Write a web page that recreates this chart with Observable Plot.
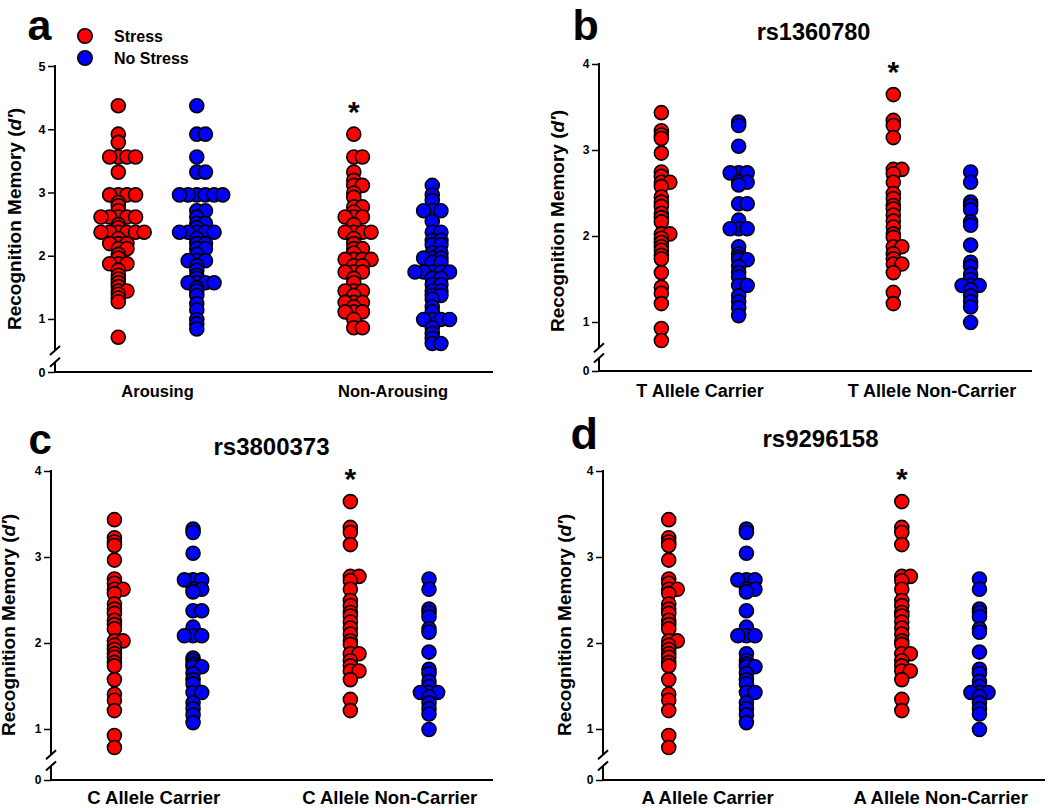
<!DOCTYPE html>
<html><head><meta charset="utf-8">
<script src="https://cdn.jsdelivr.net/npm/d3@7"></script>
<script src="https://cdn.jsdelivr.net/npm/@observablehq/plot@0.6"></script>
<style>
html,body{margin:0;padding:0;background:#fff;}
#fig{position:relative;width:1050px;height:808px;overflow:hidden;font-family:"Liberation Sans",Arial,sans-serif;}
#fig > div, #fig > svg{position:absolute;}
</style></head><body><div id="fig"></div>
<script>
// ---------- shared ----------
const conditions = ["Stress", "No Stress"];
const colors = ["#ff0000", "#0000ff"];
const yLabelParts = ["Recognition Memory (", "d′", ")"];

// ---------- panel a ----------
const aCategories = ["Arousing", "Non-Arousing"];
const aTicks = [0, 1, 2, 3, 4, 5];
const aStressArousing = [4.38, 3.93, 3.80, 3.57, 3.57, 3.57, 3.57, 3.33, 2.97, 2.97, 2.97, 2.97, 2.85, 2.80, 2.72,
  2.62, 2.62, 2.62, 2.62, 2.62, 2.50, 2.45, 2.38, 2.38, 2.38, 2.38, 2.38, 2.38, 2.28, 2.20, 2.20, 2.20, 2.12, 2.12,
  2.03, 1.97, 1.88, 1.88, 1.88, 1.78, 1.70, 1.64, 1.58, 1.52, 1.45, 1.45, 1.40, 1.34, 1.28, 0.72];
const aNoStressArousing = [4.38, 3.93, 3.93, 3.57, 3.33, 3.33, 2.97, 2.97, 2.97, 2.97, 2.97, 2.97, 2.72, 2.72, 2.62,
  2.52, 2.52, 2.45, 2.38, 2.38, 2.38, 2.38, 2.38, 2.28, 2.20, 2.20, 2.12, 2.12, 2.03, 1.93, 1.93, 1.93, 1.85, 1.78,
  1.70, 1.65, 1.58, 1.58, 1.58, 1.58, 1.50, 1.45, 1.38, 1.25, 1.15, 1.00, 0.93, 0.85];
const aStressNonArousing = [3.93, 3.57, 3.57, 3.33, 3.20, 3.12, 3.12, 3.00, 2.93, 2.78, 2.78, 2.70, 2.62, 2.62, 2.62,
  2.50, 2.38, 2.38, 2.38, 2.38, 2.28, 2.20, 2.12, 2.12, 2.05, 1.95, 1.95, 1.95, 1.95, 1.85, 1.85, 1.75, 1.75, 1.75,
  1.65, 1.58, 1.45, 1.45, 1.45, 1.38, 1.27, 1.27, 1.27, 1.20, 1.12, 1.12, 1.12, 1.00, 0.87, 0.87];
const aNoStressNonArousing = [3.12, 2.97, 2.88, 2.72, 2.72, 2.72, 2.55, 2.38, 2.38, 2.25, 2.25, 2.18, 2.18, 2.05, 2.05,
  1.97, 1.97, 1.97, 1.90, 1.90, 1.75, 1.75, 1.75, 1.75, 1.75, 1.65, 1.65, 1.55, 1.55, 1.45, 1.45, 1.38, 1.38, 1.32,
  1.20, 1.12, 1.00, 1.00, 1.00, 1.00, 0.87, 0.78, 0.70, 0.62, 0.62];
const aSignificant = ["Non-Arousing"];

// ---------- panel b ----------
const bTitle = "rs1360780";
const bCategories = ["T Allele Carrier", "T Allele Non-Carrier"];
const bTicks = [0, 1, 2, 3, 4];
const bStressCarrier = [3.44, 3.23, 3.18, 3.14, 2.97, 2.75, 2.70, 2.63, 2.63, 2.58, 2.46, 2.40, 2.35, 2.27, 2.22, 2.17,
  2.03, 2.03, 1.98, 1.93, 1.88, 1.84, 1.78, 1.74, 1.58, 1.41, 1.34, 1.22, 0.93, 0.79];
const bNoStressCarrier = [3.33, 3.29, 3.05, 2.74, 2.74, 2.74, 2.63, 2.63, 2.60, 2.38, 2.38, 2.19, 2.09, 2.09, 2.09,
  1.88, 1.80, 1.76, 1.73, 1.73, 1.65, 1.58, 1.53, 1.43, 1.43, 1.31, 1.24, 1.17, 1.08];
const bStressNonCarrier = [3.65, 3.35, 3.29, 3.15, 2.78, 2.78, 2.73, 2.63, 2.50, 2.44, 2.36, 2.32, 2.25, 2.18, 2.11,
  2.03, 1.99, 1.88, 1.88, 1.80, 1.74, 1.68, 1.68, 1.58, 1.35, 1.22];
const bNoStressNonCarrier = [2.75, 2.63, 2.40, 2.36, 2.31, 2.17, 2.13, 1.90, 1.70, 1.65, 1.56, 1.50, 1.43, 1.43, 1.43,
  1.38, 1.31, 1.24, 1.18, 1.00];
const bSignificant = ["T Allele Non-Carrier"];

// ---------- panel c ----------
const cTitle = "rs3800373";
const cCategories = ["C Allele Carrier", "C Allele Non-Carrier"];
const cTicks = [0, 1, 2, 3, 4];
const cStressCarrier = [3.44, 3.23, 3.18, 3.14, 2.97, 2.75, 2.70, 2.63, 2.63, 2.58, 2.46, 2.40, 2.35, 2.27, 2.22, 2.17,
  2.03, 2.03, 1.98, 1.93, 1.88, 1.84, 1.78, 1.74, 1.58, 1.41, 1.34, 1.22, 0.93, 0.79];
const cNoStressCarrier = [3.33, 3.29, 3.05, 2.74, 2.74, 2.74, 2.63, 2.63, 2.60, 2.38, 2.38, 2.19, 2.09, 2.09, 2.09,
  1.83, 1.80, 1.76, 1.73, 1.73, 1.65, 1.58, 1.53, 1.43, 1.43, 1.31, 1.24, 1.17, 1.08];
const cStressNonCarrier = [3.65, 3.35, 3.29, 3.15, 2.78, 2.78, 2.73, 2.63, 2.50, 2.44, 2.36, 2.32, 2.25, 2.18, 2.11,
  2.03, 1.99, 1.88, 1.88, 1.80, 1.74, 1.68, 1.68, 1.58, 1.35, 1.22];
const cNoStressNonCarrier = [2.75, 2.63, 2.40, 2.36, 2.31, 2.17, 2.13, 1.90, 1.70, 1.65, 1.56, 1.50, 1.43, 1.43, 1.43,
  1.38, 1.31, 1.24, 1.18, 1.00];
const cSignificant = ["C Allele Non-Carrier"];

// ---------- panel d ----------
const dTitle = "rs9296158";
const dCategories = ["A Allele Carrier", "A Allele Non-Carrier"];
const dTicks = [0, 1, 2, 3, 4];
const dStressCarrier = [3.44, 3.23, 3.18, 3.14, 2.97, 2.75, 2.70, 2.63, 2.63, 2.58, 2.46, 2.40, 2.35, 2.27, 2.22, 2.17,
  2.03, 2.03, 1.98, 1.93, 1.88, 1.84, 1.78, 1.74, 1.58, 1.41, 1.34, 1.22, 0.93, 0.79];
const dNoStressCarrier = [3.33, 3.29, 3.05, 2.74, 2.74, 2.74, 2.63, 2.63, 2.60, 2.38, 2.19, 2.09, 2.09, 2.09,
  1.88, 1.80, 1.76, 1.73, 1.73, 1.65, 1.58, 1.53, 1.43, 1.43, 1.31, 1.24, 1.17, 1.08];
const dStressNonCarrier = [3.65, 3.35, 3.29, 3.15, 2.78, 2.78, 2.73, 2.63, 2.50, 2.44, 2.36, 2.32, 2.25, 2.18, 2.11,
  2.03, 1.99, 1.88, 1.88, 1.80, 1.74, 1.68, 1.68, 1.58, 1.35, 1.22];
const dNoStressNonCarrier = [2.75, 2.63, 2.40, 2.36, 2.31, 2.17, 2.13, 1.90, 1.70, 1.65, 1.56, 1.50, 1.43, 1.43, 1.43,
  1.38, 1.31, 1.24, 1.18, 1.00];
const dSignificant = ["A Allele Non-Carrier"];

// ---------- panel specs (data + layout) ----------
const panels = [
  {letter: "a", title: null, categories: aCategories, ticks: aTicks, significant: aSignificant,
   series: [[aStressArousing, aNoStressArousing], [aStressNonArousing, aNoStressNonArousing]],
   L: {left: 0, top: 0, width: 525, height: 400, ml: 55, mr: 32, yDomain: [0, 0.5, 5], yRange: [372, 350.6, 66],
       xDomain: [-0.80, 4.78], breakHi: 0.5, breakLo: 0.23, yLabelX: 15, yLabelY: 219, labelSize: 16.5, labelBase: 396,
       letterX: 27, letterY: 39, letterSize: 43, tickSize: 12.5}},
  {letter: "b", title: bTitle, categories: bCategories, ticks: bTicks, significant: bSignificant,
   series: [[bStressCarrier, bNoStressCarrier], [bStressNonCarrier, bNoStressNonCarrier]],
   L: {left: 520, top: 0, width: 530, height: 400, ml: 79, mr: 18, yDomain: [0, 0.7, 4], yRange: [371, 347.8, 64],
       xDomain: [-0.80, 4.80], breakHi: 0.7, breakLo: 0.39, yLabelX: 37.5, yLabelY: 221, labelSize: 18, labelBase: 396.5,
       letterX: 52, letterY: 39, letterSize: 43, titleX: 293, titleY: 32, titleSize: 23.5, tickSize: 12}},
  {letter: "c", title: cTitle, categories: cCategories, ticks: cTicks, significant: cSignificant,
   series: [[cStressCarrier, cNoStressCarrier], [cStressNonCarrier, cNoStressNonCarrier]],
   L: {left: 0, top: 400, width: 525, height: 408, ml: 51, mr: 32, yDomain: [0, 0.7, 4], yRange: [380, 354.8, 71],
       xDomain: [-0.80, 4.82], breakHi: 0.7, breakLo: 0.39, yLabelX: 9, yLabelY: 225, labelSize: 18.5, labelBase: 403,
       letterX: 28, letterY: 53, letterSize: 42, titleX: 271, titleY: 47, titleSize: 24, tickSize: 12}},
  {letter: "d", title: dTitle, categories: dCategories, ticks: dTicks, significant: dSignificant,
   series: [[dStressCarrier, dNoStressCarrier], [dStressNonCarrier, dNoStressNonCarrier]],
   L: {left: 520, top: 400, width: 530, height: 408, ml: 83, mr: 5, yDomain: [0, 0.7, 4], yRange: [380, 354.8, 71],
       xDomain: [-0.84, 4.85], breakHi: 0.7, breakLo: 0.39, yLabelX: 44.5, yLabelY: 225, labelSize: 18.5, labelBase: 403,
       letterX: 50, letterY: 48, letterSize: 45, titleX: 300, titleY: 39, titleSize: 24, tickSize: 12}}
];

const tieStep = 0.11; // horizontal spread of tied values, in group units

function buildPoints(p) {
  const pts = [];
  p.series.forEach((pair, ci) => pair.forEach((vals, si) => {
    const gi = ci * 3 + si;
    const seen = new Map();
    vals.forEach(v => {
      const k = seen.get(v) || 0; seen.set(v, k + 1);
      const slot = k === 0 ? 0 : (k % 2 === 1 ? (k + 1) / 2 : -k / 2);
      pts.push({x: gi + slot * tieStep, v, cond: conditions[si], category: p.categories[ci]});
    });
  }));
  return pts;
}

const fig = d3.select("#fig");

for (const p of panels) {
  const L = p.L;
  const pts = buildPoints(p);
  const cats = p.categories.map((c, ci) => ({c, pos: ci * 3 + 0.5}));
  const sig = p.categories.map((c, ci) => ({c, pos: ci * 3, max: d3.max(p.series[ci][0])}))
    .filter(d => p.significant.includes(d.c));
  const mt = L.yRange[L.yRange.length - 1], mb = L.height - L.yRange[0];

  const axisLines = (index, {x, y}) => {
    const g = d3.create("svg:g").attr("stroke", "black").attr("fill", "none").attr("stroke-width", 2);
    const x0 = x(L.xDomain[0]), x1 = x(L.xDomain[1]), y0 = y(0);
    g.append("line").attr("x1", x0 - 1).attr("x2", x1).attr("y1", y0).attr("y2", y0);
    g.append("line").attr("x1", x0).attr("x2", x0).attr("y1", y(p.ticks[p.ticks.length - 1]) - 1).attr("y2", y(L.breakHi));
    g.append("line").attr("x1", x0).attr("x2", x0).attr("y1", y(L.breakLo)).attr("y2", y0);
    for (const b of [L.breakHi, L.breakLo]) {
      g.append("line").attr("x1", x0 - 5).attr("x2", x0 + 5).attr("y1", y(b) + 4.5).attr("y2", y(b) - 4.5);
    }
    return g.node();
  };

  const yLabel = () => {
    const t = d3.create("svg:text")
      .attr("transform", `translate(${L.yLabelX},${L.yLabelY}) rotate(-90)`)
      .attr("text-anchor", "middle").attr("dominant-baseline", "central")
      .attr("font-size", 18).attr("font-weight", "bold").attr("fill", "black")
      .attr("textLength", 222).attr("lengthAdjust", "spacingAndGlyphs");
    t.append("tspan").text(yLabelParts[0]);
    t.append("tspan").attr("font-style", "italic").text(yLabelParts[1]);
    t.append("tspan").text(yLabelParts[2]);
    return t.node();
  };

  const marks = [
    Plot.axisY({ticks: p.ticks, tickSize: 7, tickPadding: 3, fontSize: L.tickSize, strokeWidth: 1.5,
      tickFormat: d => String(d), label: null}),
    axisLines,
    yLabel,
    Plot.dot(pts, {x: "x", y: "v", r: 7, fill: "cond", stroke: "black", strokeWidth: 1.6}),
    Plot.text(sig, {x: "pos", y: "max", text: () => "*", fontSize: 30, dy: -22, lineAnchor: "middle"}),
    Plot.text(cats, {x: "pos", text: "c", frameAnchor: "bottom", dy: L.labelBase - L.yRange[0],
      lineAnchor: "bottom", fontSize: L.labelSize}),
    Plot.text([p.letter], {text: d => d, frameAnchor: "top-left", dx: L.letterX - L.ml, dy: L.letterY - mt,
      textAnchor: "start", lineAnchor: "bottom", fontSize: L.letterSize})
  ];
  if (p.title) marks.push(Plot.text([p.title], {text: d => d, frameAnchor: "top-left", dx: L.titleX - L.ml,
      dy: L.titleY - mt, textAnchor: "middle", lineAnchor: "middle", fontSize: L.titleSize}));

  const chart = Plot.plot({
    width: L.width, height: L.height,
    marginLeft: L.ml, marginRight: L.mr, marginTop: mt, marginBottom: mb,
    x: {domain: L.xDomain, axis: null},
    y: {type: "linear", domain: L.yDomain, range: L.yRange},
    color: {domain: conditions, range: colors},
    style: {fontFamily: "'Liberation Sans', Arial, sans-serif", fontWeight: "bold", background: "none",
      overflow: "visible", color: "black"},
    marks
  });
  const holder = fig.append("div").style("left", L.left + "px").style("top", L.top + "px");
  holder.node().appendChild(chart);
}

// legend of panel a
const leg = fig.append("svg").style("left", "0px").style("top", "0px").attr("width", 230).attr("height", 75);
conditions.forEach((c, i) => {
  const cy = 36 + i * 22;
  leg.append("circle").attr("cx", 85).attr("cy", cy).attr("r", 7.2).attr("fill", colors[i])
    .attr("stroke", "black").attr("stroke-width", 1.6);
  leg.append("text").attr("x", 114).attr("y", cy).attr("dominant-baseline", "central")
    .attr("font-family", "'Liberation Sans', Arial, sans-serif").attr("font-weight", "bold")
    .attr("font-size", 16).text(c);
});
</script></body></html>
